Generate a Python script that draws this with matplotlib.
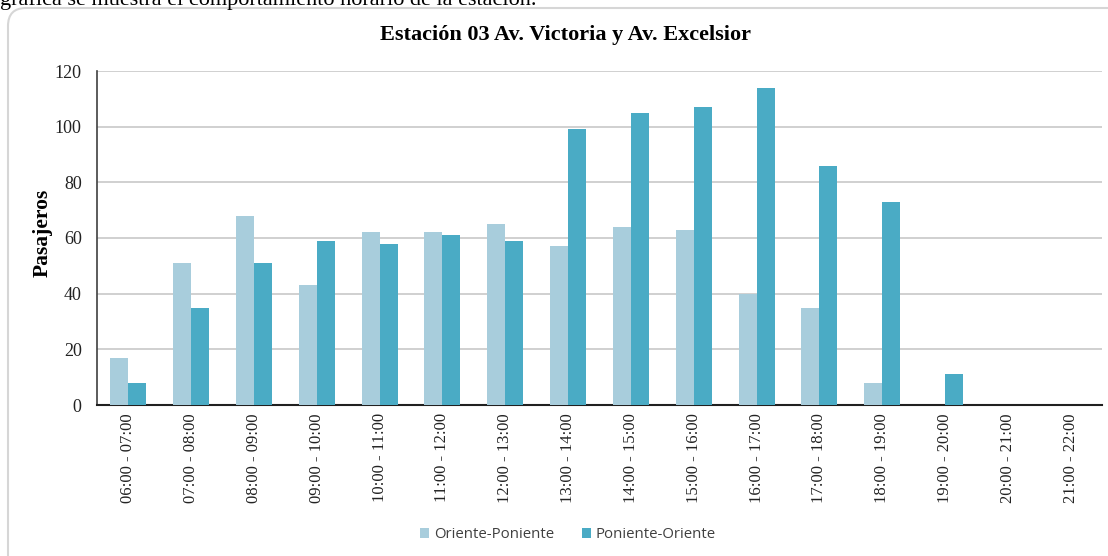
import matplotlib
matplotlib.use("Agg")
import matplotlib.pyplot as plt
import numpy as np
from matplotlib.patches import FancyBboxPatch

categories = ["06:00 - 07:00", "07:00 - 08:00", "08:00 - 09:00", "09:00 - 10:00",
              "10:00 - 11:00", "11:00 - 12:00", "12:00 - 13:00", "13:00 - 14:00",
              "14:00 - 15:00", "15:00 - 16:00", "16:00 - 17:00", "17:00 - 18:00",
              "18:00 - 19:00", "19:00 - 20:00", "20:00 - 21:00", "21:00 - 22:00"]
oriente_poniente = [17, 51, 68, 43, 62, 62, 65, 57, 64, 63, 40, 35, 8, 0, 0, 0]
poniente_oriente = [8, 35, 51, 59, 58, 61, 59, 99, 105, 107, 114, 86, 73, 11, 0, 0]
yticks = [0, 20, 40, 60, 80, 100, 120]

W, H = 1108, 556
fig = plt.figure(figsize=(W / 100, H / 100), dpi=100)

# background axes in pixel coordinates (top-left origin) for the frame
bg = fig.add_axes([0, 0, 1, 1], zorder=-5)
bg.set_xlim(0, W)
bg.set_ylim(H, 0)
bg.axis("off")
frame = FancyBboxPatch((8, 8), W + 40, H + 40,
                       boxstyle="round,pad=0,rounding_size=18",
                       facecolor="white", edgecolor="#d6d6d6", linewidth=1.5)
bg.add_patch(frame)

# cut-off line of surrounding text (clipped at the top in the reference)
fig.text(0.0, 1 - 5 / H, "gráfica se muestra el comportamiento horario de la estación.",
         family="Liberation Serif", fontsize=16, ha="left", va="baseline", color="black")

ax = fig.add_axes([97 / W, 1 - 405 / H, (1102 - 97) / W, (405 - 71) / H])
ax.set_facecolor("none")

x = np.arange(len(categories))
bw = 0.287
ax.bar(x - bw / 2, oriente_poniente, width=bw, color="#a8cddc", label="Oriente-Poniente", zorder=3)
ax.bar(x + bw / 2, poniente_oriente, width=bw, color="#4aabc5", label="Poniente-Oriente", zorder=3)

ax.set_xlim(-0.5, len(categories) - 0.5)
ax.set_ylim(0, 120)
ax.set_yticks(yticks)
ax.set_yticklabels([str(v) for v in yticks], family="Liberation Serif", fontsize=13, color="#222222")
ax.set_xticks(x)
ax.set_xticklabels(categories, rotation=90, family="Liberation Serif", fontsize=12, color="#222222")
ax.tick_params(axis="both", length=0, pad=6)
ax.tick_params(axis="y", pad=11)
ax.grid(axis="y", color="#c8c8c8", linewidth=1.2, zorder=0)
for s in ["top", "right"]:
    ax.spines[s].set_visible(False)
ax.spines["left"].set_color("#404040")
ax.spines["bottom"].set_color("#202020")
ax.spines["left"].set_linewidth(1.2)
ax.spines["bottom"].set_linewidth(1.5)

ax.set_ylabel("Pasajeros", family="Liberation Serif", fontweight="bold", fontsize=15.5,
              va="center")
ax.yaxis.set_label_coords((43 - 97) / 1005, (405 - 233) / 334)
fig.text(565 / W, 1 - 40 / H, "Estación 03 Av. Victoria y Av. Excelsior",
         family="Liberation Serif", fontweight="bold", fontsize=16, ha="center", va="baseline")

leg = fig.legend(loc="center", bbox_to_anchor=(568 / W, 1 - 535 / H), ncol=2, frameon=False,
                 prop={"family": "Open Sans", "size": 10.8}, handlelength=0.6, handleheight=0.6,
                 handletextpad=0.35, columnspacing=1.8)
for t in leg.get_texts():
    t.set_color("#404040")

fig.savefig("out.png", dpi=100)
